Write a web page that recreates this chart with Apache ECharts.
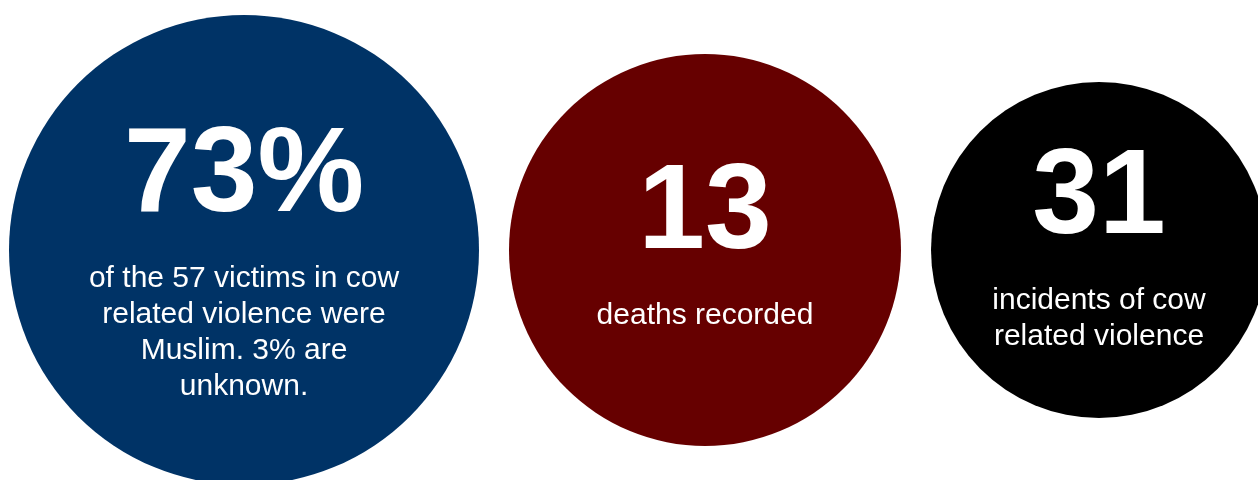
<!DOCTYPE html>
<html>
<head>
    <meta charset="UTF-8">
    <title>Cow related violence</title>
    <script src="https://cdn.jsdelivr.net/npm/echarts@6/dist/echarts.min.js"></script>
    <style>
        html, body { margin: 0; padding: 0; background: #fff; }
        #chart { width: 1258px; height: 480px; }
    </style>
</head>
<body>
<div id="chart"></div>
<script type="text/javascript">
    // data
    const categories = ['Muslim victims', 'Deaths', 'Incidents'];
    const values = [73, 13, 31];
    const units = ['%', '', ''];
    const captions = [
        'of the 57 victims in cow\nrelated violence were\nMuslim. 3% are\nunknown.',
        'deaths recorded',
        'incidents of cow\nrelated violence'
    ];

    // look
    const colors = ['#003366', '#660000', '#000000'];
    const diameters = [470, 392, 336];
    const labelShift = [0, -17, -14];
    const gap = 30;
    const leftPad = 9;

    let chart = echarts.init(document.getElementById('chart'));

    // circles sit side by side, 30px apart; x axis is in pixels
    let cursor = leftPad;
    let points = categories.map(function (name, i) {
        let x = cursor + diameters[i] / 2;
        cursor += diameters[i] + gap;
        return {
            name: name,
            value: [x, 0, values[i]],
            symbolSize: diameters[i],
            itemStyle: { color: colors[i], opacity: 1 },
            label: {
                offset: [0, labelShift[i]],
                formatter: '{big|' + values[i] + units[i] + '}\n{small|' + captions[i] + '}'
            }
        };
    });

    let option = {
        animation: false,
        grid: { left: 0, right: 0, top: 20, bottom: 0 },
        xAxis: { type: 'value', min: 0, max: 1258, show: false },
        yAxis: { type: 'value', min: -1, max: 1, show: false },
        series: [{
            type: 'scatter',
            symbol: 'circle',
            clip: false,
            silent: true,
            data: points,
            itemStyle: { opacity: 1 },
            label: {
                show: true,
                position: 'inside',
                align: 'center',
                color: '#fff',
                fontFamily: 'Helvetica, Arial, "Liberation Sans", sans-serif',
                rich: {
                    big: {
                        fontSize: 120,
                        fontWeight: 'bold',
                        lineHeight: 166,
                        color: '#fff',
                        fontFamily: 'Helvetica, Arial, "Liberation Sans", sans-serif'
                    },
                    small: {
                        fontSize: 30,
                        lineHeight: 36,
                        color: '#fff',
                        fontFamily: 'Helvetica, Arial, "Liberation Sans", sans-serif'
                    }
                }
            },
            emphasis: { disabled: true }
        }]
    };
    chart.setOption(option);
</script>
</body>
</html>
